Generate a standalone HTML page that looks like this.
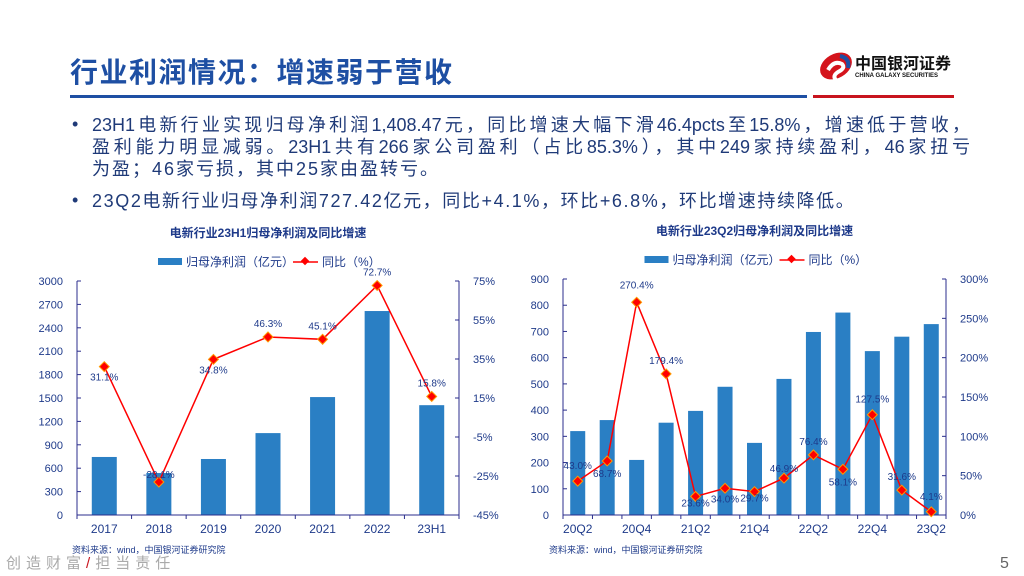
<!DOCTYPE html>
<html><head><meta charset="utf-8">
<style>
body{margin:0;width:1024px;height:576px;overflow:hidden;background:#fff;font-family:"Liberation Sans","Noto Sans CJK SC",sans-serif;}
#root{position:relative;width:1024px;height:576px;}
.title{position:absolute;left:70px;top:51px;font-size:28px;font-weight:bold;color:#1e4fa3;letter-spacing:1.5px;}
.ln{position:absolute;left:92px;color:#1f3a78;font-size:18px;line-height:22px;white-space:nowrap;}
.just{width:878px;text-align:justify;text-align-last:justify;}
.dot{position:absolute;left:72px;color:#1f3a78;font-size:18px;}
svg text{font-family:"Liberation Sans","Noto Sans CJK SC",sans-serif;}
</style></head><body>
<div id="root">
<div class="title">行业利润情况：增速弱于营收</div>
<svg style="position:absolute;left:0;top:0" width="1024" height="576">
 <rect x="70" y="95" width="737" height="3" fill="#1e4fa3"/>
 <rect x="813" y="95" width="141" height="3" fill="#c8141e"/>
 <g>
  <ellipse cx="836" cy="66" rx="17" ry="12" fill="#d4141c" transform="rotate(-30 836 66)"/>
  <path d="M828 70 q6 -10 14 -6 q4 4 -4 8 q-6 4 -2 8" stroke="#fff" stroke-width="4" fill="none"/>
  <path d="M840 56 q10 2 8 12" stroke="#1e4fa3" stroke-width="4" fill="none"/>
 </g>
 <text x="855" y="69" font-size="16" font-weight="bold" fill="#111">中国银河证券</text>
 <text x="855" y="77" font-size="6" font-weight="bold" fill="#111">CHINA GALAXY SECURITIES</text>
 <text x="6" y="568" font-size="15" fill="#aaa" letter-spacing="5">创造财富<tspan fill="#c8141e">/</tspan>担当责任</text>
 <text x="1000" y="568" font-size="16" fill="#666">5</text>
</svg>
<div class="dot" style="top:114px">•</div>
<div>
<div class="ln just" style="top:114px">23H1电新行业实现归母净利润1,408.47元，同比增速大幅下滑46.4pcts至15.8%，增速低于营收，</div>
<div class="ln just" style="top:136px">盈利能力明显减弱。23H1共有266家公司盈利（占比85.3%），其中249家持续盈利，46家扭亏</div>
<div class="ln" style="top:158px;letter-spacing:2px">为盈；46家亏损，其中25家由盈转亏。</div>
</div>
<div class="dot" style="top:190px">•</div>
<div class="ln" style="top:190px;letter-spacing:1.6px">23Q2电新行业归母净利润727.42亿元，同比+4.1%，环比+6.8%，环比增速持续降低。</div>
<svg id="c1" style="position:absolute;left:0;top:0" width="1024" height="576"></svg>
<script>
const cats1=["2017","2018","2019","2020","2021","2022","23H1"];
const profit1=[744,538,718,1050,1512,2615,1408];
const yoy1=[31.1,-28.1,34.8,46.3,45.1,72.7,15.8];
const lt1=[0,300,600,900,1200,1500,1800,2100,2400,2700,3000];
const rt1=[-45,-25,-5,15,35,55,75];
const cats2=["20Q2","20Q3","20Q4","21Q1","21Q2","21Q3","21Q4","22Q1","22Q2","22Q3","22Q4","23Q1","23Q2"];
const profit2=[320,362,210,352,397,489,275,519,698,772,625,680,728];
const yoy2=[43.0,68.7,270.4,179.4,23.6,34.0,29.7,46.9,76.4,58.1,127.5,31.6,4.1];
const lt2=[0,100,200,300,400,500,600,700,800,900];
const rt2=[0,50,100,150,200,250,300];
const NS='http://www.w3.org/2000/svg';
function mk(p,tag,a){const e=document.createElementNS(NS,tag);for(const k in a)e.setAttribute(k,a[k]);p.appendChild(e);return e;}
function chart(o){
 const s=o.svg;const n=o.cats.length;
 const step=(o.x1-o.x0)/n;
 const xc=i=>o.x0+step*(i+0.5);
 const yl=v=>o.yb-(v-o.lmin)/(o.lmax-o.lmin)*(o.yb-o.yt);
 const yr=v=>o.yb-(v-o.rmin)/(o.rmax-o.rmin)*(o.yb-o.yt);
 let t=mk(s,'text',{x:(o.x0+o.x1)/2,y:o.yt-44,'font-size':12,'font-weight':'bold',fill:'#1e3a8a','text-anchor':'middle'});t.textContent=o.title;
 
 
 const lx=(o.x0+o.x1)/2-110;
 let lr=mk(s,'rect',{x:lx,y:o.yt-23,width:24,height:7,fill:'#2a7fc4'});
 
 
 t=mk(s,'text',{x:lx+28,y:o.yt-15,'font-size':12,fill:'#1e3a8a'});t.textContent='归母净利润（亿元）';
 
 
 let ll=mk(s,'line',{x1:lx+135,x2:lx+160,y1:o.yt-19,y2:o.yt-19,stroke:'#f00','stroke-width':1.5});
 
 
 mk(s,'rect',{x:lx+144,y:o.yt-23,width:6,height:6,fill:'#f00',transform:`rotate(45 ${lx+147} ${o.yt-20})`});
 t=mk(s,'text',{x:lx+164,y:o.yt-15,'font-size':12,fill:'#1e3a8a'});t.textContent='同比（%）';
 
 
 o.profit.forEach((v,i)=>{const r=mk(s,'rect',{x:xc(i)-o.bw/2,y:yl(v),width:o.bw,height:o.yb-yl(v),fill:'#2a7fc4'});
  
  });
 const ax='#2b2e8c';
 let a=mk(s,'line',{x1:o.x0,x2:o.x0,y1:o.yt,y2:o.yb,stroke:ax});
 a=mk(s,'line',{x1:o.x1,x2:o.x1,y1:o.yt,y2:o.yb,stroke:ax});
 a=mk(s,'line',{x1:o.x0,x2:o.x1,y1:o.yb,y2:o.yb,stroke:ax});
 o.lt.forEach(v=>{mk(s,'line',{x1:o.x0,x2:o.x0+4,y1:yl(v),y2:yl(v),stroke:ax});
  const tt=mk(s,'text',{x:o.x0-o.lpad,y:yl(v)+4,'font-size':11,fill:'#1e3a8a','text-anchor':'end'});tt.textContent=v;
  
  });
 o.rt.forEach(v=>{mk(s,'line',{x1:o.x1-4,x2:o.x1,y1:yr(v),y2:yr(v),stroke:ax});
  const tt=mk(s,'text',{x:o.x1+o.rpad,y:yr(v)+4,'font-size':11,fill:'#1e3a8a'});tt.textContent=v+'%';
  
  });
 for(let i=0;i<=n;i++)mk(s,'line',{x1:o.x0+step*i,x2:o.x0+step*i,y1:o.yb,y2:o.yb+4,stroke:ax});
 o.cats.forEach((c,i)=>{if(i%o.every)return;const tt=mk(s,'text',{x:xc(i),y:o.yb+18,'font-size':12,fill:'#1e3a8a','text-anchor':'middle'});tt.textContent=c;
  
  });
 const pl=mk(s,'polyline',{points:o.yoy.map((v,i)=>xc(i)+','+yr(v)).join(' '),fill:'none',stroke:'#f00','stroke-width':1.5});
 
 
 o.yoy.forEach((v,i)=>{const x=xc(i),y=yr(v);
  const m=mk(s,'rect',{x:x-3.5,y:y-3.5,width:7,height:7,fill:'#f00',stroke:'#f90','stroke-width':1,transform:`rotate(45 ${x} ${y})`});
  
  
  const tt=mk(s,'text',{x:x,y:y+o.lo[i],'font-size':10,fill:'#1e3a8a','text-anchor':'middle'});tt.textContent=v.toFixed(1)+'%';
  
  });
}
chart({svg:document.getElementById('c1'),cats:cats1,profit:profit1,yoy:yoy1,lt:lt1,rt:rt1,
 x0:77,x1:459,yt:281,yb:515,lmin:0,lmax:3000,rmin:-45,rmax:75,bw:25,every:1,lpad:14,rpad:14,
 title:'电新行业23H1归母净利润及同比增速',lo:[14,-4,14,-10,-10,-10,-10]});
chart({svg:document.getElementById('c1'),cats:cats2,profit:profit2,yoy:yoy2,lt:lt2,rt:rt2,
 x0:563,x1:946,yt:279,yb:515,lmin:0,lmax:900,rmin:0,rmax:300,bw:15,every:2,lpad:14,rpad:14,
 title:'电新行业23Q2归母净利润及同比增速',lo:[-12,16,-14,-10,10,14,10,-6,-10,16,-12,-10,-12]});
const f=document.createElementNS(NS,'text');
f.setAttribute('x',72);f.setAttribute('y',553);f.setAttribute('font-size',9);f.setAttribute('fill','#1e3a8a');f.textContent='资料来源：wind，中国银河证券研究院';


document.getElementById('c1').appendChild(f);
const g=f.cloneNode(true);g.setAttribute('x',549);


document.getElementById('c1').appendChild(g);
</script>
</div>
</body></html>
